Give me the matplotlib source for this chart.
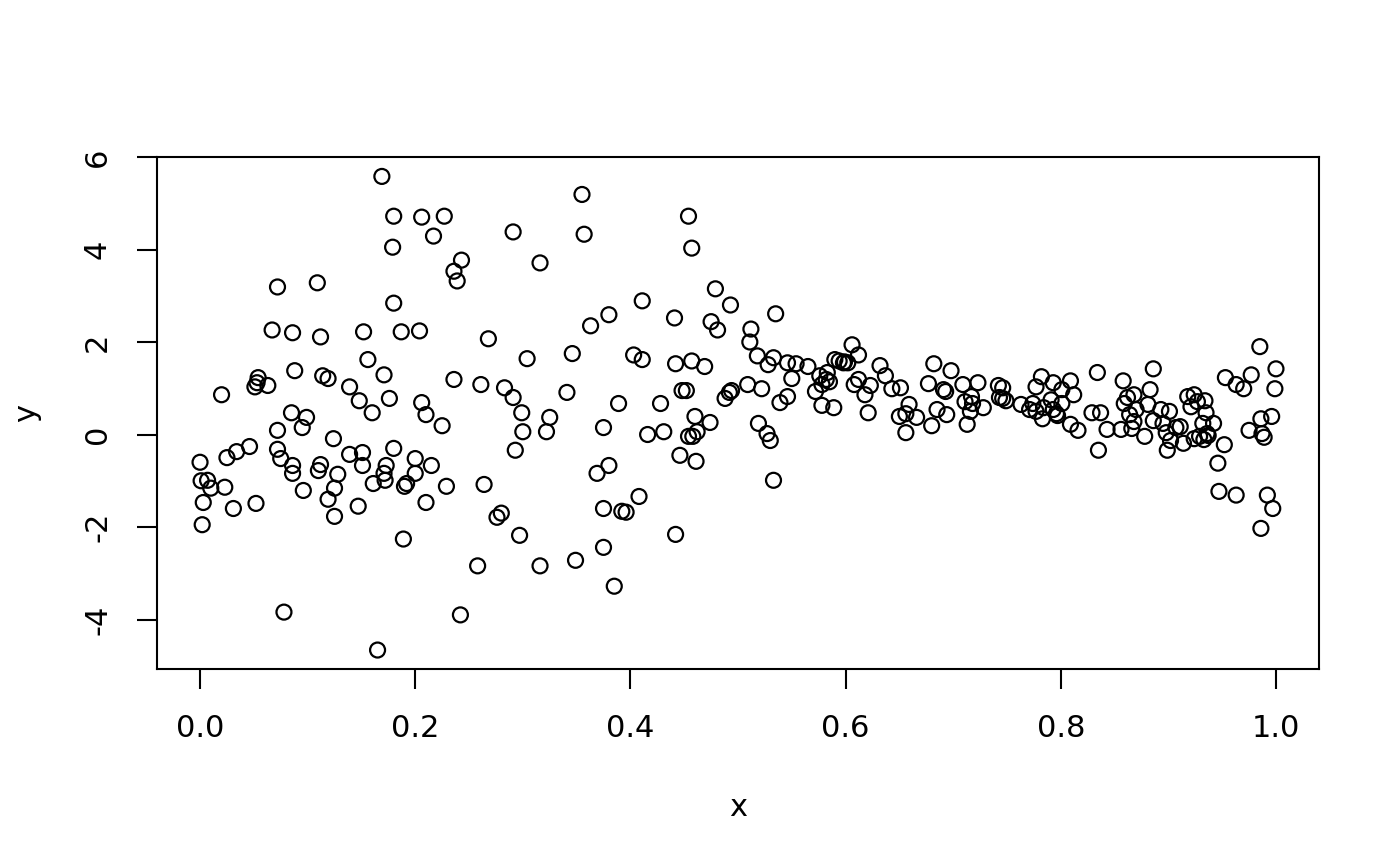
import matplotlib
matplotlib.use("Agg")
import matplotlib.pyplot as plt

# points
x = [0.000, 0.001, 0.003, 0.002, 0.007, 0.010, 0.020, 0.025, 0.023, 0.031,
     0.034, 0.046, 0.052, 0.051, 0.053, 0.054, 0.063, 0.067, 0.072, 0.072,
     0.072, 0.075, 0.078, 0.085, 0.086, 0.086, 0.086, 0.088, 0.095, 0.096,
     0.099, 0.109, 0.110, 0.112, 0.112, 0.114, 0.119, 0.119, 0.124, 0.125,
     0.125, 0.128, 0.139, 0.139, 0.147, 0.148, 0.151, 0.151, 0.152, 0.156,
     0.160, 0.161, 0.165, 0.169, 0.171, 0.171, 0.172, 0.173, 0.176, 0.179,
     0.180, 0.180, 0.180, 0.187, 0.189, 0.190, 0.192, 0.200, 0.200, 0.204,
     0.206, 0.206, 0.210, 0.210, 0.215, 0.217, 0.225, 0.227, 0.229, 0.236,
     0.236, 0.239, 0.243, 0.242, 0.258, 0.261, 0.264, 0.268, 0.276, 0.280,
     0.283, 0.291, 0.291, 0.293, 0.297, 0.299, 0.300, 0.304, 0.316, 0.316,
     0.322, 0.325, 0.341, 0.346, 0.349, 0.355, 0.357, 0.363, 0.369, 0.375,
     0.375, 0.375, 0.380, 0.380, 0.385, 0.389, 0.392, 0.396, 0.403, 0.408,
     0.411, 0.411, 0.416, 0.428, 0.431, 0.441, 0.442, 0.442, 0.446, 0.448,
     0.454, 0.452, 0.454, 0.457, 0.457, 0.458, 0.460, 0.462, 0.461, 0.469,
     0.474, 0.475, 0.479, 0.481, 0.488, 0.492, 0.493, 0.494,
     0.509, 0.511, 0.512, 0.518, 0.519, 0.522, 0.527, 0.528, 0.530, 0.533,
     0.533, 0.535, 0.539, 0.546, 0.546, 0.550, 0.554, 0.565, 0.572, 0.576,
     0.578, 0.578, 0.582, 0.583, 0.585, 0.589, 0.590, 0.594, 0.598, 0.599,
     0.602, 0.606, 0.608, 0.612, 0.612, 0.618, 0.621, 0.623, 0.632, 0.637,
     0.643, 0.650, 0.651, 0.656, 0.656, 0.659, 0.666, 0.677, 0.680, 0.682,
     0.685, 0.691, 0.693, 0.694, 0.698, 0.709, 0.711, 0.713, 0.716, 0.717,
     0.718, 0.723, 0.728, 0.742, 0.743, 0.746, 0.746, 0.749, 0.763, 0.771,
     0.774, 0.777, 0.777, 0.782, 0.783, 0.784, 0.791, 0.793, 0.793, 0.796,
     0.797, 0.801, 0.801, 0.809, 0.809, 0.812, 0.816, 0.829, 0.834, 0.835,
     0.837, 0.843, 0.856, 0.858, 0.859, 0.862, 0.864, 0.866, 0.868, 0.868,
     0.870, 0.878, 0.881, 0.883, 0.886, 0.886, 0.893, 0.895, 0.898, 0.899,
     0.901, 0.902, 0.907, 0.911, 0.914, 0.918, 0.921, 0.924, 0.924, 0.927,
     0.929, 0.932, 0.933, 0.934, 0.935, 0.936, 0.937, 0.942, 0.946, 0.947,
     0.952, 0.953, 0.963, 0.963, 0.970, 0.975, 0.977, 0.985, 0.986, 0.986,
     0.987, 0.989, 0.992, 0.996, 0.997, 0.999, 1.000]
y = [-0.60, -1.00, -1.47, -1.95, -0.99, -1.16, 0.86, -0.50, -1.14, -1.60,
     -0.37, -0.26, -1.49, 1.03, 1.12, 1.23, 1.06, 2.26, 3.19, 0.09,
     -0.32, -0.52, -3.84, 0.47, -0.67, -0.84, 2.20, 1.38, 0.15, -1.21,
     0.37, 3.28, -0.78, -0.65, 2.11, 1.27, 1.21, -1.40, -0.09, -1.16,
     -1.77, -0.86, 1.03, -0.43, -1.55, 0.73, -0.39, -0.67, 2.22, 1.62,
     0.47, -1.06, -4.66, 5.58, 1.29, -0.84, -0.99, -0.67, 0.78, 4.05,
     4.72, 2.84, -0.30, 2.22, -2.26, -1.12, -1.06, -0.52, -0.84, 2.24,
     4.70, 0.69, -1.47, 0.43, -0.67, 4.29, 0.19, 4.72, -1.12, 1.19,
     3.53, 3.32, 3.77, -3.90, -2.84, 1.08, -1.08, 2.07, -1.79, -1.70,
     1.01, 0.80, 4.38, -0.34, -2.18, 0.47, 0.06, 1.64, 3.71, -2.84,
     0.06, 0.37, 0.91, 1.75, -2.72, 5.19, 4.33, 2.35, -0.84, -2.44,
     -1.60, 0.15, 2.59, -0.67, -3.28, 0.67, -1.66, -1.68, 1.72, -1.34,
     1.62, 2.89, 0.00, 0.67, 0.06, 2.52, 1.53, -2.16, -0.45, 0.95,
     4.72, 0.95, -0.04, 1.59, 4.03, -0.04, 0.39, 0.06, -0.58, 1.47,
     0.26, 2.44, 3.15, 2.26, 0.78, 0.91, 2.80, 0.95,
     1.08, 2.00, 2.28, 1.70, 0.24, 0.99, 0.02, 1.51, -0.13, 1.66,
     -0.99, 2.61, 0.69, 0.82, 1.55, 1.21, 1.53, 1.47, 0.93, 1.27,
     0.63, 1.08, 1.19, 1.34, 1.14, 0.58, 1.62, 1.59, 1.55, 1.57,
     1.55, 1.94, 1.08, 1.19, 1.72, 0.86, 0.47, 1.06, 1.49, 1.27,
     0.99, 0.39, 1.01, 0.45, 0.04, 0.65, 0.37, 1.10, 0.19, 1.53,
     0.54, 0.97, 0.93, 0.43, 1.38, 1.08, 0.71, 0.22, 0.50, 0.82,
     0.67, 1.12, 0.58, 1.06, 0.80, 0.78, 1.01, 0.73, 0.65, 0.54,
     0.67, 0.50, 1.03, 1.25, 0.34, 0.58, 0.75, 1.12, 0.54, 0.45,
     0.41, 0.67, 0.97, 1.16, 0.22, 0.86, 0.09, 0.47, 1.34, -0.34,
     0.47, 0.11, 0.11, 1.16, 0.67, 0.80, 0.43, 0.13, 0.28, 0.86,
     0.54, -0.04, 0.65, 0.97, 1.42, 0.30, 0.54, 0.24, 0.04, -0.34,
     0.50, -0.13, 0.15, 0.17, -0.19, 0.82, 0.60, 0.86, -0.09, 0.71,
     -0.04, 0.24, -0.11, 0.73, 0.47, 0.02, -0.02, 0.24, -0.62, -1.23,
     -0.22, 1.23, -1.31, 1.08, 0.99, 0.09, 1.29, 1.90, -2.03, 0.34,
     0.02, -0.06, -1.31, 0.39, -1.60, 0.99, 1.42]

plt.rcParams['font.family'] = ['DejaVu Sans']
plt.rcParams['font.size'] = 11

fig = plt.figure(figsize=(7, 4.33), dpi=200)
ax = fig.add_axes([157 / 1400, 1 - 669 / 866, (1319 - 157) / 1400, (669 - 157) / 866])

ax.scatter(x, y, s=29, facecolors='none', edgecolors='black', linewidths=0.8)

ax.set_xlim(-0.04, 1.04)
ax.set_ylim(-5.07, 5.99)
ax.set_xticks([0.0, 0.2, 0.4, 0.6, 0.8, 1.0])
ax.set_xticklabels(['0.0', '0.2', '0.4', '0.6', '0.8', '1.0'])
ax.set_yticks([-4, -2, 0, 2, 4, 6])
ax.set_yticklabels(['-4', '-2', '0', '2', '4', '6'], rotation=90, va='center')

for s in ax.spines.values():
    s.set_linewidth(0.75)
ax.tick_params(direction='out', length=7.2, width=0.75, pad=9)

ax.set_xlabel('x', labelpad=18)
ax.set_ylabel('y', labelpad=15)

fig.savefig('out.png', dpi=200)
